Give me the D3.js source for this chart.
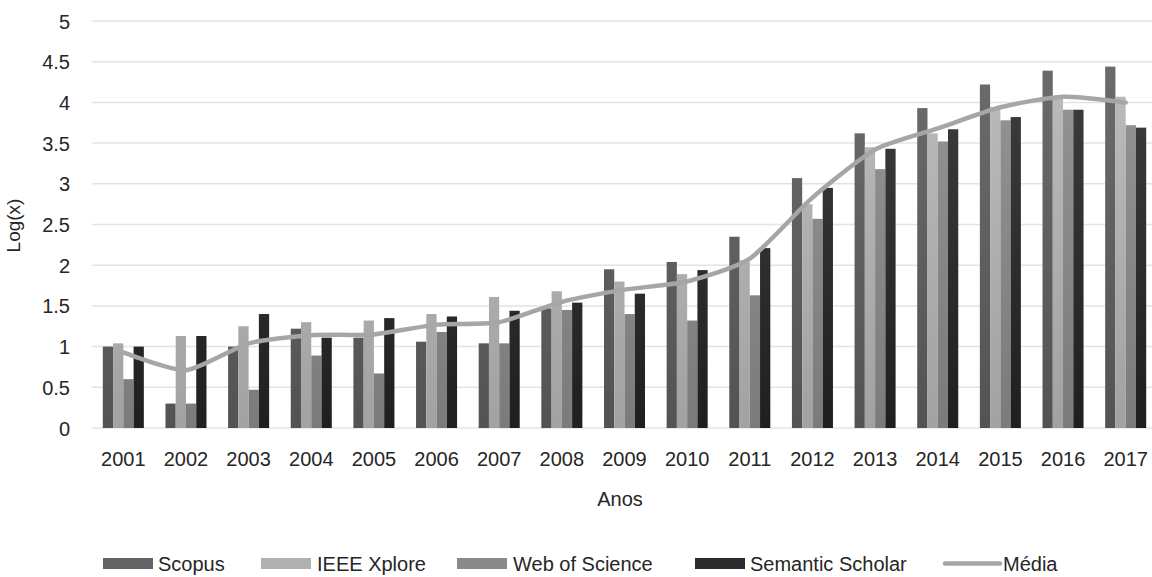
<!DOCTYPE html>
<html>
<head>
<meta charset="utf-8">
<script src="https://cdn.jsdelivr.net/npm/d3@7"></script>
<style>
  html, body { margin: 0; padding: 0; background: #ffffff; }
  svg { display: block; }
  text { font-family: "Liberation Sans", Arial, sans-serif; fill: #262626; }
</style>
</head>
<body>
<svg id="chart" width="1152" height="577"></svg>
<script>
// Publications per year, log10 scale, by database
const years = ["2001","2002","2003","2004","2005","2006","2007","2008","2009","2010","2011","2012","2013","2014","2015","2016","2017"];
const seriesNames = ["Scopus", "IEEE Xplore", "Web of Science", "Semantic Scholar"];
const scopus   = [1.00, 0.30, 1.00, 1.22, 1.11, 1.06, 1.04, 1.47, 1.95, 2.04, 2.35, 3.07, 3.62, 3.93, 4.22, 4.39, 4.44];
const ieee     = [1.04, 1.13, 1.25, 1.30, 1.32, 1.40, 1.61, 1.68, 1.80, 1.89, 2.06, 2.75, 3.45, 3.62, 3.94, 4.07, 4.07];
const wos      = [0.60, 0.30, 0.47, 0.89, 0.67, 1.18, 1.04, 1.45, 1.40, 1.32, 1.63, 2.57, 3.18, 3.52, 3.78, 3.91, 3.72];
const semantic = [1.00, 1.13, 1.40, 1.11, 1.35, 1.37, 1.44, 1.54, 1.65, 1.94, 2.21, 2.95, 3.43, 3.67, 3.82, 3.91, 3.69];
const media    = [0.93, 0.71, 1.04, 1.14, 1.15, 1.27, 1.30, 1.55, 1.70, 1.80, 2.08, 2.83, 3.42, 3.68, 3.94, 4.07, 4.00];
const yTicks   = [0, 0.5, 1, 1.5, 2, 2.5, 3, 3.5, 4, 4.5, 5];
const yTickLabels = ["0", "0.5", "1", "1.5", "2", "2.5", "3", "3.5", "4", "4.5", "5"];
const lineName = "Média";
const xTitle = "Anos";
const yTitle = "Log(x)";

const seriesValues = [scopus, ieee, wos, semantic];
// top / bottom shades of each bar gradient
const shades = [["#6e6e6e", "#535353"], ["#bebebe", "#a2a2a2"], ["#979797", "#7b7b7b"], ["#424242", "#1f1f1f"]];
const legendFill = ["#636363", "#b1b1b1", "#8a8a8a", "#2c2c2c"];
const lineColor = "#a6a6a6";
const gridColor = "#dfe3ea";

const svg = d3.select("#chart");
const plot = { left: 92, right: 1157, top: 21, bottom: 428 };

const x = d3.scaleBand().domain(years).range([plot.left, plot.right])
  .paddingInner(0.345).paddingOuter(0.1725);
const xs = d3.scaleBand().domain(seriesNames).range([0, x.bandwidth()]).padding(0);
const y = d3.scaleLinear().domain([0, 5]).range([plot.bottom, plot.top]);

// gradients spanning the plot height
const defs = svg.append("defs");
shades.forEach((s, i) => {
  const g = defs.append("linearGradient")
    .attr("id", "grad" + i)
    .attr("gradientUnits", "userSpaceOnUse")
    .attr("x1", 0).attr("x2", 0)
    .attr("y1", plot.top).attr("y2", plot.bottom);
  g.append("stop").attr("offset", "0%").attr("stop-color", s[0]);
  g.append("stop").attr("offset", "100%").attr("stop-color", s[1]);
});

// horizontal gridlines
svg.append("g")
  .selectAll("line")
  .data(yTicks)
  .join("line")
  .attr("x1", plot.left).attr("x2", 1152)
  .attr("y1", d => y(d)).attr("y2", d => y(d))
  .attr("stroke", gridColor).attr("stroke-width", 1.5);

// y axis labels
const yAxis = d3.axisLeft(y).tickValues(yTicks)
  .tickFormat((d, i) => yTickLabels[i]).tickSize(0).tickPadding(0);
svg.append("g")
  .attr("transform", `translate(70,0)`)
  .call(yAxis)
  .call(g => g.select(".domain").remove())
  .call(g => g.selectAll("text")
    .attr("font-family", "Liberation Sans, Arial, sans-serif")
    .attr("font-size", 20).attr("fill", "#262626").attr("dy", "0.35em"));

// x axis labels
const xAxis = d3.axisBottom(x).tickSize(0).tickPadding(0);
svg.append("g")
  .attr("transform", `translate(0,${plot.bottom})`)
  .call(xAxis)
  .call(g => g.select(".domain").remove())
  .call(g => g.selectAll("text")
    .attr("font-family", "Liberation Sans, Arial, sans-serif")
    .attr("font-size", 20).attr("fill", "#262626").attr("dy", null).attr("y", 38));

// bars
const groups = svg.append("g")
  .selectAll("g")
  .data(years)
  .join("g")
  .attr("transform", d => `translate(${x(d)},0)`);

groups.selectAll("rect")
  .data((yr, yi) => seriesNames.map((s, si) => ({ s, si, v: seriesValues[si][yi] })))
  .join("rect")
  .attr("x", d => xs(d.s))
  .attr("width", xs.bandwidth())
  .attr("y", d => y(d.v))
  .attr("height", d => y(0) - y(d.v))
  .attr("fill", d => `url(#grad${d.si})`);

// average line (smoothed)
const line = d3.line()
  .x((d, i) => x(years[i]) + x.bandwidth() / 2)
  .y(d => y(d))
  .curve(d3.curveCardinal.tension(0.35));
svg.append("path")
  .datum(media)
  .attr("d", line)
  .attr("fill", "none")
  .attr("stroke", lineColor)
  .attr("stroke-width", 4.5)
  .attr("stroke-linecap", "round")
  .attr("stroke-linejoin", "round");

// axis titles
svg.append("text")
  .attr("x", (plot.left + 1152) / 2 - 2).attr("y", 506)
  .attr("text-anchor", "middle").attr("font-size", 20)
  .text(xTitle);
svg.append("text")
  .attr("transform", `translate(20,${(plot.top + plot.bottom) / 2 + 1}) rotate(-90)`)
  .attr("text-anchor", "middle").attr("font-size", 19)
  .text(yTitle);

// legend
const legendItems = [
  { name: seriesNames[0], type: "rect", sx: 103, tx: 158 },
  { name: seriesNames[1], type: "rect", sx: 261, tx: 317 },
  { name: seriesNames[2], type: "rect", sx: 457, tx: 513 },
  { name: seriesNames[3], type: "rect", sx: 695, tx: 750 },
  { name: lineName, type: "line", sx: 945, tx: 1003 }
];
const legend = svg.append("g");
legendItems.forEach((it, i) => {
  if (it.type === "rect") {
    legend.append("rect")
      .attr("x", it.sx).attr("y", 558).attr("width", 50).attr("height", 11)
      .attr("fill", legendFill[i]);
  } else {
    legend.append("line")
      .attr("x1", it.sx).attr("x2", it.sx + 55)
      .attr("y1", 563.5).attr("y2", 563.5)
      .attr("stroke", lineColor).attr("stroke-width", 4.5)
      .attr("stroke-linecap", "round");
  }
  legend.append("text")
    .attr("x", it.tx).attr("y", 563.5).attr("dy", "0.35em")
    .attr("font-size", 20)
    .text(it.name);
});
</script>
</body>
</html>
